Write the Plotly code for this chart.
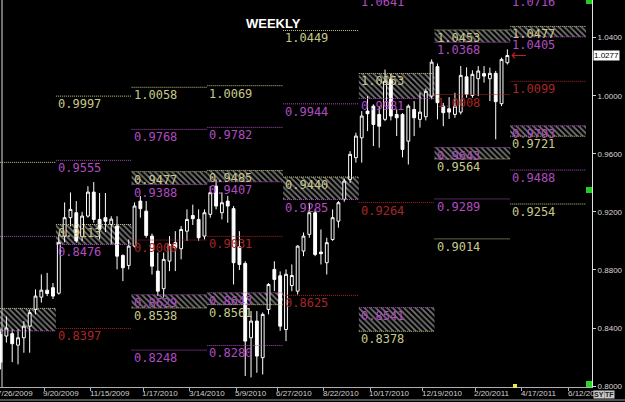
import plotly.graph_objects as go
import pandas as pd

# ---------------- data ----------------
week_start = pd.date_range("2009-07-26", periods=88, freq="7D")
opens = [0.8356, 0.8345, 0.8361, 0.8282, 0.8333, 0.8413, 0.8528, 0.8613, 0.8661, 0.8678,
         0.8640, 0.9033, 0.9160, 0.9194, 0.9030, 0.9171, 0.9336, 0.9148, 0.9160, 0.9113,
         0.9102, 0.8900, 0.8831, 0.8964, 0.9274, 0.9205, 0.9033, 0.8792, 0.8671, 0.8861,
         0.8988, 0.8946, 0.9067, 0.9175, 0.9148, 0.9033, 0.9183, 0.9377, 0.9194, 0.9274,
         0.9222, 0.8960, 0.8845, 0.8333, 0.8448, 0.8196, 0.8528, 0.8804, 0.8760, 0.8390,
         0.8693, 0.8654, 0.8930, 0.9045, 0.9194, 0.8923, 0.8850, 0.9010, 0.9136, 0.9286,
         0.9424, 0.9573, 0.9710, 0.9894, 0.9928, 0.9871, 0.9837, 1.0112, 0.9871, 0.9871,
         0.9687, 0.9905, 0.9837, 0.9855, 0.9997, 1.0200, 0.9928, 0.9910, 0.9871, 0.9887,
         1.0130, 1.0002, 1.0117, 1.0152, 1.0117, 1.0154, 0.9945, 1.0227]
highs = [0.8390, 0.8480, 0.8390, 0.8390, 0.8448, 0.8528, 0.8666, 0.8769, 0.8780, 0.8710,
         0.9045, 0.9265, 0.9334, 0.9274, 0.9200, 0.9377, 0.9405, 0.9330, 0.9330, 0.9170,
         0.9170, 0.8907, 0.9010, 0.9265, 0.9309, 0.9274, 0.9050, 0.8920, 0.8920, 0.9033,
         0.9067, 0.9102, 0.9217, 0.9250, 0.9217, 0.9217, 0.9377, 0.9424, 0.9334, 0.9310,
         0.9240, 0.9067, 0.8860, 0.8517, 0.8517, 0.8507, 0.8710, 0.8860, 0.8790, 0.8804,
         0.8838, 0.8970, 0.9058, 0.9263, 0.9217, 0.9079, 0.9022, 0.9217, 0.9274, 0.9430,
         0.9618, 0.9745, 0.9894, 0.9997, 0.9940, 0.9928, 1.0180, 1.0150, 0.9906, 0.9880,
         0.9940, 0.9963, 1.0020, 1.0050, 1.0250, 1.0222, 0.9950, 0.9990, 1.0020, 1.0204,
         1.0195, 1.0175, 1.0204, 1.0204, 1.0193, 1.0170, 1.0262, 1.0319]
lows = [0.8115, 0.8300, 0.8165, 0.8150, 0.8230, 0.8230, 0.8494, 0.8575, 0.8620, 0.8600,
        0.8630, 0.8990, 0.9100, 0.8988, 0.9000, 0.9160, 0.9125, 0.9010, 0.9060, 0.8976,
        0.8804, 0.8723, 0.8804, 0.8955, 0.9160, 0.9022, 0.8769, 0.8620, 0.8610, 0.8792,
        0.8792, 0.8873, 0.9000, 0.9110, 0.9000, 0.9010, 0.9160, 0.9217, 0.9148, 0.9125,
        0.8700, 0.8800, 0.8070, 0.8060, 0.8092, 0.8080, 0.8494, 0.8654, 0.8380, 0.8310,
        0.8654, 0.8631, 0.8895, 0.9022, 0.8895, 0.8838, 0.8769, 0.9000, 0.9091, 0.9270,
        0.9400, 0.9539, 0.9539, 0.9756, 0.9653, 0.9642, 0.9825, 0.9830, 0.9722, 0.9575,
        0.9526, 0.9722, 0.9780, 0.9830, 0.9975, 0.9837, 0.9790, 0.9840, 0.9848, 0.9871,
        0.9986, 0.9986, 0.9997, 1.0090, 0.9963, 0.9700, 0.9928, 1.0215]
closes = [0.8165, 0.8400, 0.8292, 0.8333, 0.8413, 0.8506, 0.8620, 0.8661, 0.8638, 0.8620,
          0.8990, 0.9160, 0.9217, 0.9000, 0.9171, 0.9336, 0.9148, 0.9080, 0.9135, 0.9150,
          0.8895, 0.8815, 0.8964, 0.9240, 0.9222, 0.9038, 0.8826, 0.8654, 0.8873, 0.8976,
          0.8953, 0.9079, 0.9148, 0.9153, 0.9022, 0.9194, 0.9332, 0.9240, 0.9263, 0.9240,
          0.8850, 0.8838, 0.8310, 0.8448, 0.8207, 0.8494, 0.8700, 0.8735, 0.8413, 0.8770,
          0.8762, 0.8964, 0.9033, 0.9194, 0.8907, 0.8912, 0.8988, 0.9160, 0.9263, 0.9412,
          0.9596, 0.9722, 0.9860, 0.9876, 0.9802, 0.9790, 1.0100, 0.9860, 0.9848, 0.9630,
          0.9928, 0.9848, 0.9887, 1.0030, 1.0231, 0.9952, 0.9883, 0.9887, 0.9928, 1.0140,
          1.0010, 1.0147, 1.0170, 1.0135, 1.0154, 0.9959, 1.0250, 1.0277]

# quarter segments (first weekly bar of each quarter)
seg_bounds = ["2009-07-05", "2009-10-04", "2010-01-03", "2010-04-04", "2010-07-04",
              "2010-10-03", "2011-01-02", "2011-04-03", "2011-07-03"]

# level lines: segment, price, colour key, label
level_seg = [0, 0, 0, 0,
             1, 1, 1, 1, 1,
             2, 2, 2, 2, 2, 2, 2, 2,
             3, 3, 3, 3, 3, 3, 3, 3,
             4, 4, 4, 4, 4,
             5, 5, 5, 5, 5, 5,
             6, 6, 6, 6, 6, 6, 6,
             7, 7, 7, 7, 7, 7, 7, 7]
level_price = [0.9541, 0.9031, 0.8535, 0.8380,
               0.9997, 0.9555, 0.9113, 0.8976, 0.8397,
               1.0058, 0.9768, 0.9477, 0.9388, 0.9006, 0.8629, 0.8538, 0.8248,
               1.0069, 0.9782, 0.9485, 0.9407, 0.9031, 0.8643, 0.8561, 0.8280,
               1.0449, 0.9944, 0.9440, 0.9285, 0.8625,
               1.0700, 1.0153, 0.9981, 0.9264, 0.8541, 0.8378,
               1.0453, 1.0368, 1.0008, 0.9643, 0.9564, 0.9289, 0.9014,
               1.0700, 1.0477, 1.0405, 1.0099, 0.9793, 0.9721, 0.9488, 0.9254]
level_kind = ["Y", "M", "Y", "M",
              "Y", "M", "Y", "M", "R",
              "Y", "M", "Y", "M", "R", "M", "Y", "M",
              "Y", "M", "Y", "M", "R", "M", "Y", "M",
              "Y", "M", "Y", "M", "R",
              "M", "Y", "M", "R", "M", "Y",
              "Y", "M", "R", "M", "Y", "M", "Y",
              "M", "Y", "M", "R", "M", "Y", "M", "Y"]
level_label = ["", "", "", "",
               "0.9997", "0.9555", "0.9113", "0.8476", "0.8397",
               "1.0058", "0.9768", "0.9477", "0.9388", "0.9006", "0.8629", "0.8538", "0.8248",
               "1.0069", "0.9782", "0.9485", "0.9407", "0.9031", "0.8643", "0.8561", "0.8280",
               "1.0449", "0.9944", "0.9440", "0.9285", "0.8625",
               "1.0641", "1.0153", "0.9981", "0.9264", "0.8541", "0.8378",
               "1.0453", "1.0368", "1.0008", "0.9643", "0.9564", "0.9289", "0.9014",
               "1.0716", "1.0477", "1.0405", "1.0099", "0.9793", "0.9721", "0.9488", "0.9254"]

# hatched zones: segment, top, bottom
zone_seg = [0, 1, 2, 2, 3, 3, 4, 5, 5, 6, 6, 7, 7]
zone_top = [0.8535, 0.9113, 0.9477, 0.8629, 0.9485, 0.8643, 0.9440, 1.0153, 0.8541,
            1.0453, 0.9643, 1.0477, 0.9793]
zone_bottom = [0.8380, 0.8976, 0.9388, 0.8538, 0.9407, 0.8561, 0.9285, 0.9981, 0.8378,
               1.0368, 0.9564, 1.0405, 0.9721]

x_tick_dates = ["2009-07-26", "2009-09-20", "2009-11-15", "2010-01-17", "2010-03-14",
                "2010-05-09", "2010-06-27", "2010-08-22", "2010-10-17", "2010-12-19",
                "2011-02-20", "2011-04-17", "2011-06-12"]
y_tick_vals = [0.80, 0.84, 0.88, 0.92, 0.96, 1.00, 1.04]
last_price = 1.0277
title_text = "WEEKLY"

# ---------------- styling ----------------
COL = {"Y": "#c8c88a", "M": "#b04cc0", "R": "#a82626"}
W, H = 625, 402
ML, MR, MT, MB = 0, 33, 0, 15
PW, PH = W - ML - MR, H - MT - MB
X_RANGE = [pd.Timestamp("2009-07-28 20:00"), pd.Timestamp("2011-07-10 05:00")]
Y_RANGE = [0.7994, 1.0659]


def xfrac(d):
    return (pd.Timestamp(d) - X_RANGE[0]) / (X_RANGE[1] - X_RANGE[0])


def yfrac(p):
    return (p - Y_RANGE[0]) / (Y_RANGE[1] - Y_RANGE[0])


candle_x = week_start + pd.Timedelta(hours=84)
bounds = pd.to_datetime(seg_bounds)

fig = go.Figure()

# hatched zones (bars with pattern)
for s, t, b in zip(zone_seg, zone_top, zone_bottom):
    x0, x1 = bounds[s], bounds[s + 1]
    mid = x0 + (x1 - x0) / 2
    fig.add_trace(go.Bar(
        x=[mid], y=[t - b], base=[b],
        width=[(x1 - x0).total_seconds() * 1000],
        marker=dict(color="black", line=dict(width=0),
                    pattern=dict(shape="\\", fgcolor="#f0f0f0", bgcolor="black",
                                 size=4, solidity=0.42)),
        hoverinfo="skip", showlegend=False))

# dotted level lines, grouped by colour
for kind in ["Y", "M", "R"]:
    xs, ys = [], []
    for s, p, k in zip(level_seg, level_price, level_kind):
        if k != kind:
            continue
        xs += [bounds[s], bounds[s + 1], None]
        ys += [p, p, None]
    fig.add_trace(go.Scatter(x=xs, y=ys, mode="lines",
                             line=dict(color=COL[kind], width=1, dash="1px,1px"),
                             hoverinfo="skip", showlegend=False))

# candles
fig.add_trace(go.Candlestick(
    x=candle_x, open=opens, high=highs, low=lows, close=closes,
    increasing=dict(line=dict(color="white", width=1), fillcolor="black"),
    decreasing=dict(line=dict(color="white", width=1), fillcolor="white"),
    whiskerwidth=0, showlegend=False, hoverinfo="skip"))

ann = []
for s, p, k, lab in zip(level_seg, level_price, level_kind, level_label):
    if not lab:
        continue
    ann.append(dict(x=xfrac(bounds[s]), y=yfrac(p), xref="paper", yref="paper", text=lab,
                    showarrow=False, xanchor="left", yanchor="top", xshift=1, yshift=0,
                    borderpad=0,
                    font=dict(family="DejaVu Sans Mono", size=12, color=COL[k])))

# x labels (left aligned at tick)
for d in x_tick_dates:
    dt = pd.Timestamp(d)
    ann.append(dict(x=xfrac(dt), y=0, xref="paper", yref="paper",
                    text=f"{dt.month}/{dt.day}/{dt.year}",
                    showarrow=False, xanchor="left", yanchor="top", xshift=-2, yshift=-1,
                    borderpad=0,
                    font=dict(family="Liberation Sans", size=8, color="#d0d0d0")))

ann.append(dict(x=273 / PW, y=1 - 23.5 / PH, xref="paper", yref="paper",
                xanchor="center", yanchor="middle",
                text="<b>" + title_text + "</b>", showarrow=False,
                font=dict(family="Liberation Sans", size=13, color="white")))

# current price box and arrow
ann.append(dict(x=1, y=last_price, xref="paper", yref="y", text=f"{last_price:.4f}",
                showarrow=False, xanchor="left", yanchor="middle", xshift=1,
                bgcolor="white", borderpad=0,
                font=dict(family="Liberation Sans", size=8, color="black")))
ann.append(dict(x=candle_x[-1], y=last_price, xref="x", yref="y", text="",
                showarrow=True, ax=20, ay=0, standoff=4, arrowhead=4, arrowsize=1.1,
                arrowwidth=1, arrowcolor="#c82020"))

# SY / TF buttons
ann.append(dict(x=1, y=0, xref="paper", yref="paper", text="<b>SY</b>", showarrow=False,
                xanchor="left", yanchor="top", xshift=1, yshift=-3, bgcolor="#c8c8c8",
                borderpad=0, font=dict(family="Liberation Sans", size=7, color="#202020")))
ann.append(dict(x=1, y=0, xref="paper", yref="paper", text="<b>TF</b>", showarrow=False,
                xanchor="left", yanchor="top", xshift=12, yshift=-3, bgcolor="#c8c8c8",
                borderpad=0, font=dict(family="Liberation Sans", size=7, color="#202020")))


def px(x):
    return x / PW


def py(y):
    return 1 - y / PH


shapes = [
    dict(type="line", xref="paper", yref="paper", x0=px(2), x1=px(2), y0=0, y1=1,
         line=dict(color="#e0e0e0", width=1)),
    dict(type="line", xref="paper", yref="paper", x0=0, x1=W / PW, y0=py(400), y1=py(400),
         line=dict(color="#a0a0a0", width=1)),
    dict(type="rect", xref="paper", yref="paper", x0=px(586), x1=px(592), y0=py(4), y1=py(0),
         fillcolor="#22cc22", line=dict(width=0)),
    dict(type="rect", xref="paper", yref="paper", x0=px(586), x1=px(592), y0=py(193), y1=py(187),
         fillcolor="#22cc22", line=dict(width=0)),
    dict(type="rect", xref="paper", yref="paper", x0=px(586), x1=px(592), y0=py(387), y1=py(381),
         fillcolor="#22dd22", line=dict(width=0)),
    dict(type="rect", xref="paper", yref="paper", x0=px(513), x1=px(517), y0=py(388), y1=py(384),
         fillcolor="#e8e850", line=dict(width=0)),
]

fig.update_layout(
    width=W, height=H, margin=dict(l=ML, r=MR, t=MT, b=MB),
    paper_bgcolor="black", plot_bgcolor="black",
    barmode="overlay", showlegend=False,
    annotations=ann, shapes=shapes,
    xaxis=dict(type="date", range=X_RANGE,
               tickvals=pd.to_datetime(x_tick_dates), ticks="outside", ticklen=3,
               tickcolor="#b0b0b0", showticklabels=False, showgrid=False, zeroline=False,
               showline=True, linecolor="#b0b0b0", rangeslider=dict(visible=False)),
    yaxis=dict(side="right", range=Y_RANGE, tickvals=y_tick_vals,
               ticktext=[f"{v:.4f}" for v in y_tick_vals], ticks="outside", ticklen=3,
               tickcolor="#d0d0d0", tickfont=dict(family="Liberation Sans", size=8, color="#d8d8d8"),
               showgrid=False, zeroline=False, showline=True, linecolor="#e0e0e0"),
)

fig.write_html("out.html")
